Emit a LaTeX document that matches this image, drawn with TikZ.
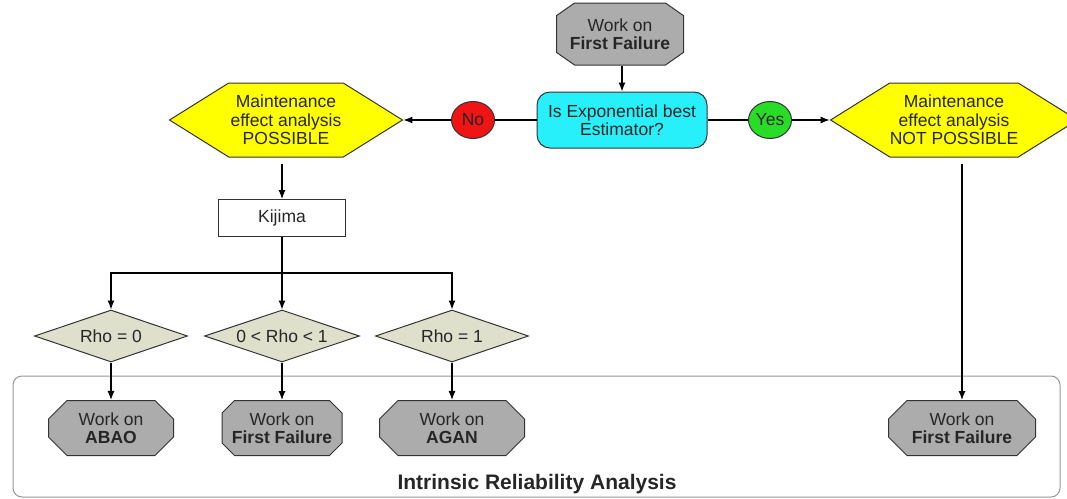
\documentclass[tikz,border=0pt]{standalone}
\usepackage{fontspec}
\setmainfont{Liberation Sans}
\usetikzlibrary{shapes.geometric,shapes.misc,shapes.symbols,arrows.meta}
\definecolor{octgray}{RGB}{172,172,172}
\definecolor{hexyellow}{RGB}{255,255,0}
\definecolor{qcyan}{RGB}{40,240,250}
\definecolor{nored}{RGB}{240,20,20}
\definecolor{yesgreen}{RGB}{40,220,40}
\definecolor{dmdfill}{RGB}{222,224,204}
\definecolor{boxgray}{RGB}{150,150,150}
\begin{document}
\begin{tikzpicture}[x=1pt,y=-1pt,
  every node/.style={font=\fontsize{17.5}{18.4}\selectfont, align=center, inner sep=0pt, line width=1pt, text=black!85},
  octo/.style={chamfered rectangle, chamfered rectangle xsep=15pt, draw=black!80, fill=octgray, minimum width=125pt, minimum height=55pt},
  hexa/.style={signal, signal to=west and east, signal pointer angle=64, draw=black!80, fill=hexyellow, minimum width=230pt, minimum height=74pt},
  dmd/.style={diamond, aspect=3, draw=black!80, fill=dmdfill, minimum width=153pt, minimum height=52pt},
  lbl/.style={ellipse, draw=black!80, minimum width=43pt, minimum height=37pt},
  arr/.style={-{Latex[length=9pt,width=7pt]}, line width=1.2pt},
  ln/.style={line width=1.2pt}
]
\useasboundingbox (0,0) rectangle (1067,498);
% container
\draw[boxgray, line width=1pt, rounded corners=9pt] (13,376) rectangle (1060,497);
\node[font=\fontsize{21}{22}\selectfont\bfseries] (title) at (537,484) {Intrinsic Reliability Analysis};

% top
\node[octo, minimum width=127pt, minimum height=62pt, chamfered rectangle angle=55, chamfered rectangle xsep=13pt] (start) at (620,34) {Work on\\\textbf{First Failure}};
\node[rectangle, rounded corners=13pt, draw=black!80, fill=qcyan, minimum width=170pt, minimum height=56pt] (q) at (622,120) {Is Exponential best\\Estimator?};
\node[lbl, fill=nored] (no) at (473,120) {No};
\node[lbl, fill=yesgreen] (yes) at (770,120) {Yes};
\node[hexa, minimum width=233pt] (poss) at (286,120) {Maintenance\\effect analysis\\POSSIBLE};
\node[hexa, minimum width=227pt] (notposs) at (954,120) {Maintenance\\effect analysis\\NOT POSSIBLE};

\node[rectangle, draw=black!80, fill=white, minimum width=127pt, minimum height=37pt] (kij) at (282,218) {Kijima};
\coordinate (split) at (282,273);

\node[dmd] (d1) at (111,336) {Rho = 0};
\node[dmd, minimum width=155pt] (d2) at (282,336) {0 {\textless} Rho {\textless} 1};
\node[dmd] (d3) at (452,336) {Rho = 1};

\node[octo] (o1) at (111,428) {Work on\\\textbf{ABAO}};
\node[octo, minimum width=120pt, chamfered rectangle xsep=9pt] (o2) at (282,428) {Work on\\\textbf{First Failure}};
\node[octo, minimum width=145pt] (o3) at (452,428) {Work on\\\textbf{AGAN}};
\node[octo, minimum width=147pt] (o4) at (962,428) {Work on\\\textbf{First Failure}};

% connectors
\draw[arr] (start.south -| q) -- (q.north);
\draw[ln] (q) -- (no);
\draw[arr] (no) -- (poss.east);
\draw[ln] (q) -- (yes);
\draw[arr] (yes) -- (notposs.west);
\draw[arr, shorten <=6pt] (poss.south -| kij) -- (kij.north);
\draw[ln] (kij.south) -- (split);
\draw[arr] (split) -| (d1.north);
\draw[arr] (split) -| (d3.north);
\draw[arr] (split) -- (d2.north);
\draw[arr] (d1) -- (o1);
\draw[arr] (d2) -- (o2);
\draw[arr] (d3) -- (o3);
\draw[arr, shorten <=6pt] (notposs.south -| o4) -- (o4.north);
\end{tikzpicture}
\end{document}
